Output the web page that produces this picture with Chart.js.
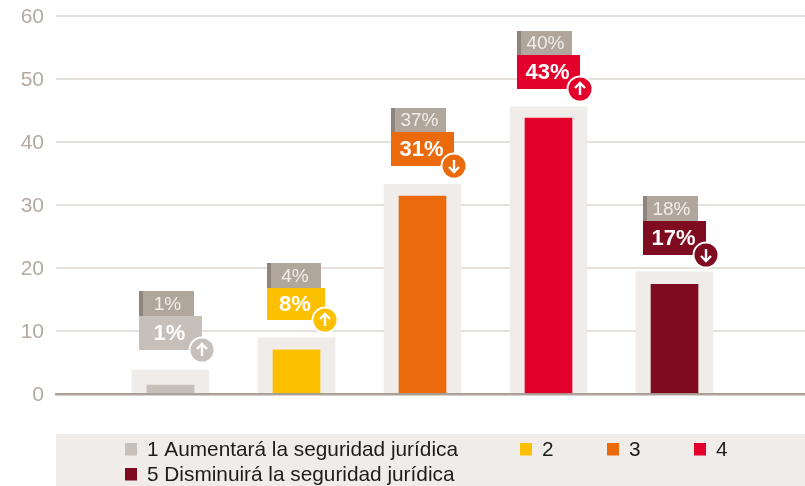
<!DOCTYPE html>
<html><head><meta charset="utf-8">
<style>html,body{margin:0;padding:0;background:#fff}#w{width:805px;height:486px;position:relative}</style>
<script src="https://cdn.jsdelivr.net/npm/chart.js@4/dist/chart.umd.js"></script>
</head><body><div id="w"><canvas id="c" width="805" height="486"></canvas></div>
<script>
const categories = ['1 Aumentará la seguridad jurídica', '2', '3', '4', '5 Disminuirá la seguridad jurídica'];
const positions = [1, 2, 3, 4, 5];
const currentValues = [1.4, 7, 31.4, 43.8, 17.4];
const backdropValues = [3.8, 8.9, 33.3, 45.6, 19.4];
const previousLabels = ['1%', '4%', '37%', '40%', '18%'];
const currentLabels = ['1%', '8%', '31%', '43%', '17%'];
const trends = ['up', 'up', 'down', 'up', 'down'];
const colors = ['#c7bfb9', '#fdc000', '#eb6a0c', '#e3002b', '#7f0b20'];
const yTicks = [0, 10, 20, 30, 40, 50, 60];

const FONT = '"Liberation Sans", Arial, sans-serif';
const mainBoxWidths = [63, 58, 63, 63, 63];
const topBoxWidths = [55, 54, 55, 55, 55];
const mainBoxHeights = [34, 32, 34, 34, 34];
const topBoxHeights = [25, 25, 24, 24, 25];
const boxGaps = [20, 18, 18, 18, 17];
const boxShifts = [31.5, 29.5, 31.5, 31.5, 31.5];
const legendRows = [[125, 443], [520, 443], [607, 443], [694, 443], [125, 468]];

const calloutPlugin = {
  id: 'callouts',
  afterDatasetsDraw(chart) {
    const ctx = chart.ctx, x = chart.scales.x, y = chart.scales.y;
    positions.forEach((p, i) => {
      const cx = x.getPixelForValue(p);
      const bottom = Math.round(y.getPixelForValue(backdropValues[i])) - boxGaps[i];
      const w = mainBoxWidths[i], tw = topBoxWidths[i];
      const left = Math.round(cx - boxShifts[i]);
      const mainH = mainBoxHeights[i], topH = topBoxHeights[i];
      const mainTop = bottom - mainH, topTop = mainTop - topH;
      ctx.save();
      ctx.fillStyle = '#b0a69c';
      ctx.fillRect(left, topTop, tw, topH);
      ctx.fillStyle = '#8f857d';
      ctx.fillRect(left, topTop, 4, topH);
      ctx.fillStyle = colors[i];
      ctx.fillRect(left, mainTop, w, mainH);
      ctx.textBaseline = 'middle';
      ctx.textAlign = 'center';
      ctx.fillStyle = '#f1ede9';
      ctx.font = '19px ' + FONT;
      ctx.fillText(previousLabels[i], left + 4 + (tw - 4) / 2 - 1, topTop + topH / 2 + 1);
      ctx.fillStyle = '#fff';
      ctx.font = 'bold 22px ' + FONT;
      ctx.fillText(currentLabels[i], left + w / 2 - 1, mainTop + mainH / 2 + 1);
      const bx = left + w, by = bottom;
      ctx.beginPath(); ctx.arc(bx, by, 13.5, 0, Math.PI * 2); ctx.fillStyle = '#fff'; ctx.fill();
      ctx.beginPath(); ctx.arc(bx, by, 11.5, 0, Math.PI * 2); ctx.fillStyle = colors[i]; ctx.fill();
      const d = trends[i] === 'up' ? -1 : 1;
      ctx.strokeStyle = '#fff'; ctx.lineWidth = 2.4; ctx.lineCap = 'butt'; ctx.lineJoin = 'miter';
      ctx.beginPath(); ctx.moveTo(bx, by - d * 6); ctx.lineTo(bx, by + d * 5.5); ctx.stroke();
      ctx.beginPath(); ctx.moveTo(bx - 5, by + d * 1); ctx.lineTo(bx, by + d * 6); ctx.lineTo(bx + 5, by + d * 1); ctx.stroke();
      ctx.restore();
    });
  }
};

const legendPlugin = {
  id: 'panelLegend',
  beforeDraw(chart) {
    const ctx = chart.ctx;
    ctx.save();
    ctx.fillStyle = '#efecea';
    ctx.fillRect(56, 434, 749, 52);
    ctx.restore();
  },
  afterDraw(chart) {
    const ctx = chart.ctx;
    ctx.save();
    ctx.font = '20.8px ' + FONT;
    ctx.textBaseline = 'middle';
    ctx.textAlign = 'left';
    categories.forEach((label, i) => {
      const [lx, ly] = legendRows[i];
      ctx.fillStyle = colors[i];
      ctx.fillRect(lx, ly, 12, 12.5);
      ctx.fillStyle = '#1c1c1c';
      ctx.fillText(label, lx + 22, ly + 7);
    });
    ctx.restore();
  }
};

new Chart(document.getElementById('c'), {
  type: 'bar',
  data: {
    datasets: [
      { label: 'Valor', data: positions.map((p, i) => ({ x: p, y: currentValues[i] })), backgroundColor: colors, barThickness: 47, grouped: false, order: 1 },
      { label: 'Fondo', data: positions.map((p, i) => ({ x: p, y: backdropValues[i] })), backgroundColor: '#efecea', barThickness: 77, grouped: false, order: 2 }
    ]
  },
  options: {
    responsive: false,
    animation: false,
    layout: { padding: { top: 16, bottom: 92, left: 0, right: 0 } },
    plugins: { legend: { display: false }, tooltip: { enabled: false } },
    scales: {
      x: {
        type: 'linear', offset: false, min: 0.0913, max: 6.0357,
        grid: { display: false, drawTicks: false, offset: false },
        border: { display: true, color: 'rgba(150,135,125,0.72)', width: 2.5, z: 1 },
        ticks: { display: false }
      },
      y: {
        min: 0, max: 60,
        afterBuildTicks(s) { s.ticks = yTicks.map(v => ({ value: v })); },
        afterFit(s) { s.width = 56; s.paddingTop = 0; s.paddingBottom = 0; },
        grid: { color: '#e5e0dc', lineWidth: 2, drawTicks: false },
        border: { display: false },
        ticks: { color: '#b5aaa1', padding: 12, labelOffset: 1, font: { size: 21, family: FONT } }
      }
    }
  },
  plugins: [calloutPlugin, legendPlugin]
});
</script></body></html>
